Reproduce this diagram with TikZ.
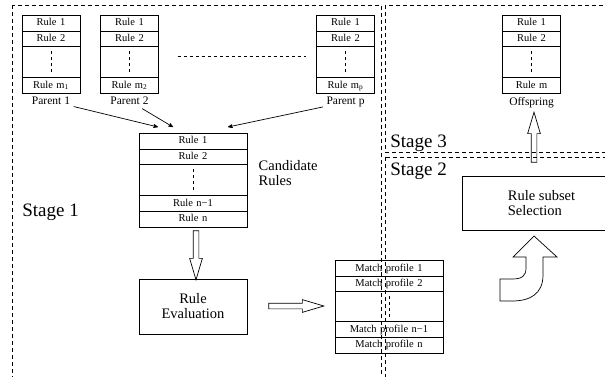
\documentclass[tikz,border=0pt]{standalone}
\usepackage{fontspec}
\setmainfont{Liberation Serif}
\usetikzlibrary{arrows,shapes,calc,positioning}
\tikzset{
  >=stealth'
}

\begin{document}
\begin{tikzpicture}[x=1pt,y=1pt,line width=0.7pt,
  stage/.style={draw,line width=0.6pt,dash pattern=on 4pt off 3pt},
  rules/.style={draw,rectangle split,rectangle split parts=4,inner xsep=0pt,inner ysep=0.5pt,text width=58pt,align=center,font=\fontsize{10.5}{14}\selectfont},
  dots/.style={line width=0.6pt,dash pattern=on 3pt off 3pt},
  box/.style={draw,minimum width=108pt,minimum height=55pt,font=\fontsize{14.5}{15}\selectfont},
  hollow/.style={draw,single arrow,single arrow head extend=3.5pt,single arrow tip angle=33,single arrow head indent=0pt,inner xsep=0pt,inner ysep=2.5pt,minimum width=0pt},
  stagelabel/.style={anchor=base west,inner sep=0pt,font=\fontsize{19}{20}\selectfont},
  plabel/.style={font=\fontsize{11.5}{13}\selectfont}]
        \useasboundingbox (0,0) rectangle (605,-377);
        \clip (0,0) rectangle (605,-377);

        \draw[stage] (12,-5) rectangle (381,-390);
        \draw[stage] (385,-5) rectangle (620,-152);
        \draw[stage] (385,-157) rectangle (620,-390);
        \node[stagelabel] (S1) at (22,-216) {Stage 1};
        \node[stagelabel] (S2) at (390,-175.5) {Stage 2};
        \node[stagelabel] (S3) at (390,-147.5) {Stage 3};

        \node[rules,anchor=north,label={[name=L1,plabel]below:Parent 1}] (P1) at (51,-15) {\strut Rule 1\nodepart{two}\strut Rule 2\nodepart{three}\rule{0pt}{29pt}\nodepart{four}\strut Rule m\textsubscript{1}};
        \node[rules,anchor=north,label={[name=L2,plabel]below:Parent 2}] (P2) at (129.5,-15) {\strut Rule 1\nodepart{two}\strut Rule 2\nodepart{three}\rule{0pt}{29pt}\nodepart{four}\strut Rule m\textsubscript{2}};
        \node[rules,anchor=north,label={[name=Lp,plabel]below:Parent p}] (Pp) at (345.5,-15) {\strut Rule 1\nodepart{two}\strut Rule 2\nodepart{three}\rule{0pt}{29pt}\nodepart{four}\strut Rule m\textsubscript{p}};
        \node[rules,anchor=north,label={[name=LO,plabel]below:Offspring}] (Off) at (531.5,-15) {\strut Rule 1\nodepart{two}\strut Rule 2\nodepart{three}\rule{0pt}{29pt}\nodepart{four}\strut Rule m};
        \draw[dots] ($(P2.east)+(19,-2)$) -- ($(Pp.west)+(-10,-2)$);

        \node[rules,rectangle split parts=5,text width=108pt,anchor=north] (Cand) at (193,-133) {\strut Rule 1\nodepart{two}\strut Rule 2\nodepart{three}\rule{0pt}{29pt}\nodepart{four}\strut Rule n−1\nodepart{five}\strut Rule n};
        \node[anchor=west,align=left,font=\fontsize{14.5}{15}\selectfont] (CR) at (255,-173) {Candidate\\Rules};

        \coordinate (c1) at (158,-127);
        \coordinate (c2) at (173,-127);
        \coordinate (cp) at (228,-127);
        \draw[->] (L1) -- (c1);
        \draw[->] (L2) -- (c2);
        \draw[->] (Lp) -- (cp);

        \node[box,align=center] (Eval) at (193,-306.5) {Rule\\Evaluation};
        \node[rules,rectangle split parts=5,text width=108pt,anchor=north] (Match) at (389,-260) {\strut Match profile 1\nodepart{two}\strut Match profile 2\nodepart{three}\rule{0pt}{28pt}\nodepart{four}\strut Match profile n−1\nodepart{five}\strut Match profile n};
        \node[box,align=left,minimum width=159pt,minimum height=54pt] (Sel) at (541.5,-203.5) {Rule subset\\Selection};

        \draw[dots] ($(P1.two split)!0.15!(P1.three split)$) -- ($(P1.two split)!0.85!(P1.three split)$);
        \draw[dots] ($(P2.two split)!0.15!(P2.three split)$) -- ($(P2.two split)!0.85!(P2.three split)$);
        \draw[dots] ($(Pp.two split)!0.15!(Pp.three split)$) -- ($(Pp.two split)!0.85!(Pp.three split)$);
        \draw[dots] ($(Off.two split)!0.15!(Off.three split)$) -- ($(Off.two split)!0.85!(Off.three split)$);
        \draw[dots] ($(Cand.two split)!0.15!(Cand.three split)$) -- ($(Cand.two split)!0.85!(Cand.three split)$);
        \draw[dots] ($(Match.two split)!0.15!(Match.three split)$) -- ($(Match.two split)!0.85!(Match.three split)$);

        \node[hollow,minimum height=49pt,rotate=-90] (H1) at (196,-250.5) {};
        \node[hollow,minimum height=55pt] (H2) at (291.5,-306) {};
        \node[hollow,minimum height=50pt,rotate=90] (H3) at (534,-142) {};
        \draw (534,-236) -- (557,-257) -- (543,-257) -- (543,-275)
          .. controls (543,-294) and (530,-301) .. (512,-301) -- (500,-301) -- (500,-279) -- (512,-279)
          .. controls (522,-279) and (526,-276) .. (526,-268) -- (526,-257) -- (513,-257) -- cycle;
    \end{tikzpicture}
\end{document}
